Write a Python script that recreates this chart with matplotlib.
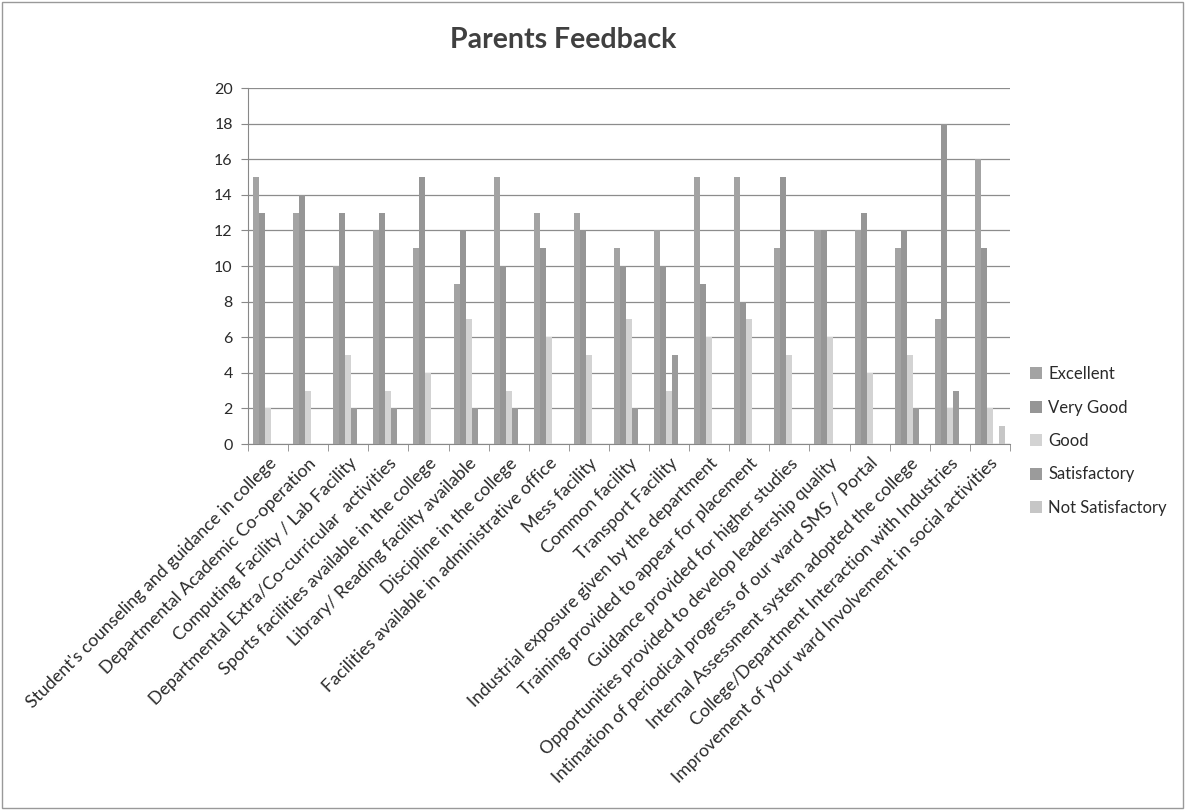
import numpy as np
import matplotlib
matplotlib.use("Agg")
import matplotlib.pyplot as plt
from matplotlib.patches import Rectangle

plt.rcParams['font.family'] = ['Lato', 'DejaVu Sans']

categories = [
    "Student's counseling and guidance in college",
    "Departmental Academic Co-operation",
    "Computing Facility / Lab Facility",
    "Departmental Extra/Co-curricular  activities",
    "Sports facilities available in the college",
    "Library/ Reading facility available",
    "Discipline in the college",
    "Facilities available in administrative office",
    "Mess facility",
    "Common facility",
    "Transport Facility",
    "Industrial exposure given by the department",
    "Training provided to appear for placement",
    "Guidance provided for higher studies",
    "Opportunities provided to develop leadership quality",
    "Intimation of periodical progress of our ward SMS / Portal",
    "Internal Assessment system adopted the college",
    "College/Department Interaction with Industries",
    "Improvement of your ward Involvement in social activities",
]

excellent = [15, 13, 10, 12, 11, 9, 15, 13, 13, 11, 12, 15, 15, 11, 12, 12, 11, 7, 16]
very_good = [13, 14, 13, 13, 15, 12, 10, 11, 12, 10, 10, 9, 8, 15, 12, 13, 12, 18, 11]
good = [2, 3, 5, 3, 4, 7, 3, 6, 5, 7, 3, 6, 7, 5, 6, 4, 5, 2, 2]
satisfactory = [0, 0, 2, 2, 0, 2, 2, 0, 0, 2, 5, 0, 0, 0, 0, 0, 2, 3, 0]
not_satisfactory = [0, 0, 0, 0, 0, 0, 0, 0, 0, 0, 0, 0, 0, 0, 0, 0, 0, 0, 1]

series_names = ["Excellent", "Very Good", "Good", "Satisfactory", "Not Satisfactory"]
series = [excellent, very_good, good, satisfactory, not_satisfactory]
colors = ["#a3a3a3", "#969696", "#d3d3d3", "#9b9b9b", "#c6c6c6"]

fig = plt.figure(figsize=(11.85, 8.1), dpi=100)
ax = fig.add_axes([248 / 1185, 1 - 444 / 810, (1010 - 248) / 1185, (444 - 88) / 810])

x = np.arange(len(categories))
w = 0.15
for k, (name, vals) in enumerate(zip(series_names, series)):
    ax.bar(x + (k - 2) * w, vals, w, color=colors[k], label=name, zorder=3)

ax.set_ylim(0, 20)
ax.set_yticks(range(0, 21, 2))
ax.set_xlim(-0.5, len(categories) - 0.5)
ax.yaxis.grid(True, color="#8c8c8c", linewidth=0.9, zorder=0)
ax.set_axisbelow(True)

ax.set_xticks(x)
ax.set_xticklabels(categories, rotation=45, ha="right", rotation_mode="anchor",
                   fontsize=12.8, color="#2a2a2a")
ax.tick_params(axis="x", which="major", length=0, pad=8)
ax.set_xticks(np.arange(-0.5, len(categories), 1), minor=True)
ax.tick_params(axis="x", which="minor", length=5, color="#888888")
ax.tick_params(axis="y", length=5, color="#888888", labelsize=11.5, labelcolor="#2a2a2a", pad=6)

for s in ["top", "right"]:
    ax.spines[s].set_visible(False)
for s in ["left", "bottom"]:
    ax.spines[s].set_color("#888888")

fig.text(563 / 1185, 1 - 40 / 810, "Parents Feedback", ha="center", va="center",
         fontsize=20.5, fontweight="bold", color="#404040")

ax.legend(loc="center left", bbox_to_anchor=(1015 / 1185, 1 - 441 / 810),
          bbox_transform=fig.transFigure, frameon=False, fontsize=12,
          handlelength=0.7, handleheight=0.7, handletextpad=0.4,
          labelspacing=1.05, labelcolor="#2a2a2a")

fig.patches.append(Rectangle((2 / 1185, 2 / 810), 1181 / 1185, 806 / 810,
                             transform=fig.transFigure, fill=False,
                             edgecolor="#999999", linewidth=1))

fig.savefig("out.png", dpi=100)
